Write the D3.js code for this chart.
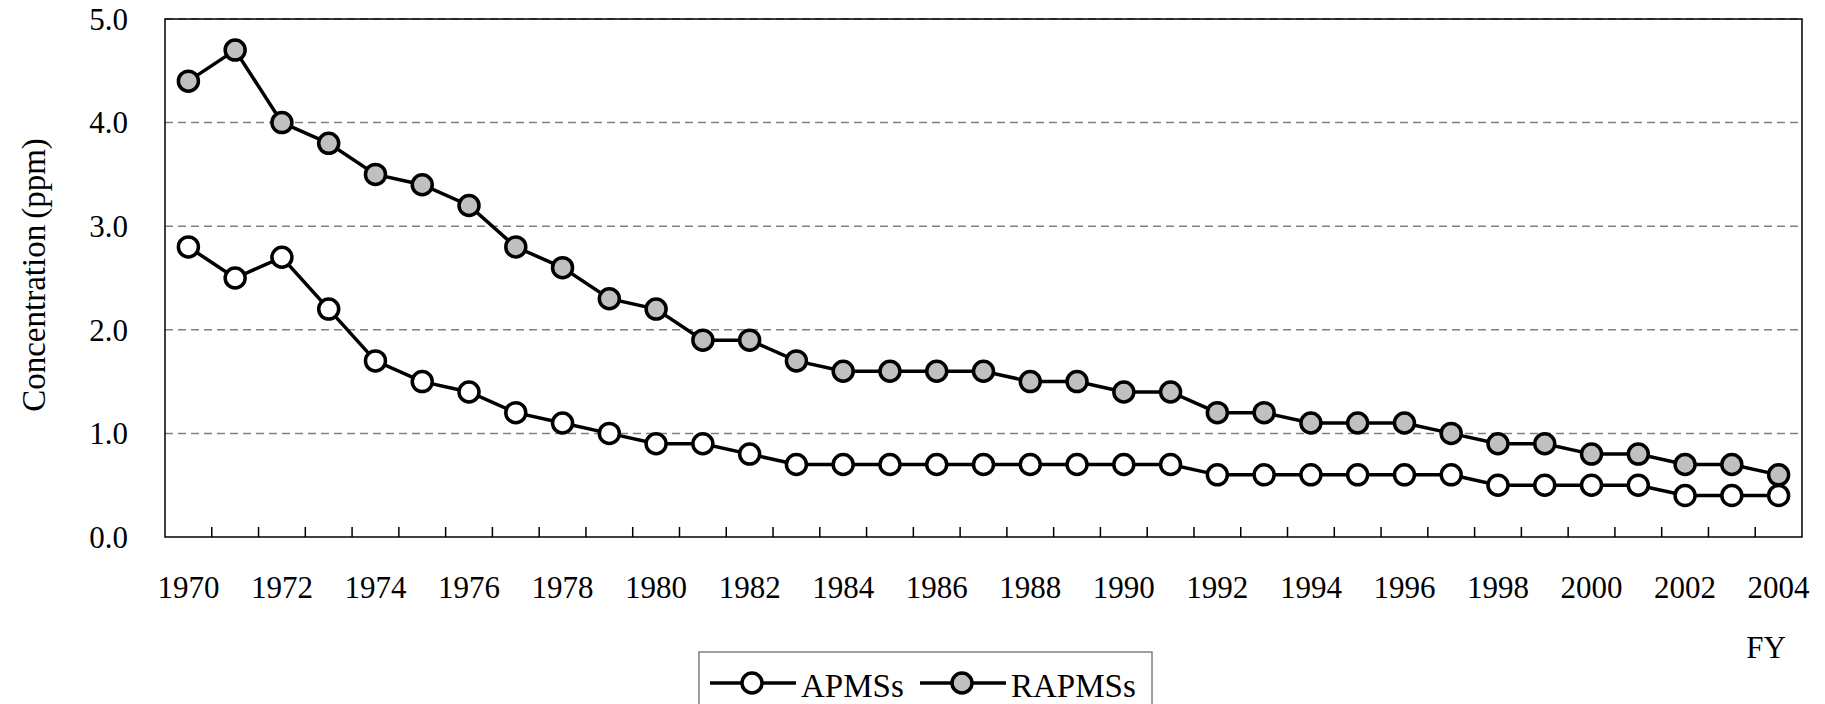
<!DOCTYPE html>
<html>
<head>
<meta charset="utf-8">
<script src="https://cdn.jsdelivr.net/npm/d3@7"></script>
<style>
  body { margin: 0; background: #fff; }
  svg text { font-family: 'Liberation Serif', serif; fill: #000; }
</style>
</head>
<body>
<div class="wrapper"></div>
<script>
// data
var years = d3.range(1970, 2005);
var apmss = [2.8, 2.5, 2.7, 2.2, 1.7, 1.5, 1.4, 1.2, 1.1, 1.0, 0.9, 0.9, 0.8, 0.7, 0.7, 0.7, 0.7, 0.7,
             0.7, 0.7, 0.7, 0.7, 0.6, 0.6, 0.6, 0.6, 0.6, 0.6, 0.5, 0.5, 0.5, 0.5, 0.4, 0.4, 0.4];
var rapmss = [4.4, 4.7, 4.0, 3.8, 3.5, 3.4, 3.2, 2.8, 2.6, 2.3, 2.2, 1.9, 1.9, 1.7, 1.6, 1.6, 1.6, 1.6,
              1.5, 1.5, 1.4, 1.4, 1.2, 1.2, 1.1, 1.1, 1.1, 1.0, 0.9, 0.9, 0.8, 0.8, 0.7, 0.7, 0.6];
var yTicks = [0, 1, 2, 3, 4, 5];
var seriesNames = ["APMSs", "RAPMSs"];
var seriesFill = ["#ffffff", "#c0c0c0"];

var W = 1825, H = 704;
var margin = {top: 19, right: 23, bottom: 167, left: 165},
    width = W - margin.left - margin.right,
    height = H - margin.top - margin.bottom;

var svg = d3.select(".wrapper")
  .append("svg")
    .attr("width", W)
    .attr("height", H)
  .append("g")
    .attr("transform", "translate(" + margin.left + "," + margin.top + ")");

var x = d3.scaleBand().domain(years).range([0, width]);
var y = d3.scaleLinear().domain([0, 5]).range([height, 0]);
var cx = function(yr) { return x(yr) + x.bandwidth() / 2; };

// dashed grid
svg.append("g")
  .selectAll("line")
  .data(yTicks.filter(d => d > 0))
  .enter().append("line")
    .attr("x1", 0).attr("x2", width)
    .attr("y1", d => y(d)).attr("y2", d => y(d))
    .style("stroke", "#808080")
    .style("stroke-width", 1.5)
    .style("stroke-dasharray", "8,5");

// frame
svg.append("rect")
  .attr("width", width).attr("height", height)
  .style("fill", "none").style("stroke", "#000").style("stroke-width", 1.5);

// x ticks (inward, at band boundaries)
svg.append("g")
  .selectAll("line")
  .data(years.slice(1))
  .enter().append("line")
    .attr("x1", d => x(d)).attr("x2", d => x(d))
    .attr("y1", height).attr("y2", height - 10)
    .style("stroke", "#000").style("stroke-width", 1.5);

// x labels every other year
svg.append("g")
  .selectAll("text")
  .data(years.filter(d => d % 2 == 0))
  .enter().append("text")
    .attr("x", d => cx(d))
    .attr("y", height + 61)
    .attr("text-anchor", "middle")
    .style("font-size", "31px")
    .text(d => d);

// y labels
svg.append("g")
  .selectAll("text")
  .data(yTicks)
  .enter().append("text")
    .attr("x", -37)
    .attr("y", d => y(d))
    .attr("dy", "0.35em")
    .attr("text-anchor", "end")
    .style("font-size", "31px")
    .text(d => d.toFixed(1));

// axis titles
var yTitle = svg.append("text")
  .attr("transform", "translate(" + (45 - margin.left) + "," + (275 - margin.top) + ") rotate(-90)")
  .attr("text-anchor", "middle")
  .style("font-size", "33px");
yTitle.append("tspan").text("Concentration");
yTitle.append("tspan").attr("dx", 6).text("(ppm)");

svg.append("text")
  .attr("x", 1766 - margin.left)
  .attr("y", 658 - margin.top)
  .attr("text-anchor", "middle")
  .style("font-size", "31px")
  .text("FY");

// series
var line = d3.line().x((d, i) => cx(years[i])).y(d => y(d));
[apmss, rapmss].forEach(function(vals, k) {
  svg.append("path")
    .datum(vals)
    .attr("d", line)
    .style("fill", "none").style("stroke", "#000").style("stroke-width", 3.5);
});
[apmss, rapmss].forEach(function(vals, k) {
  svg.append("g")
    .selectAll("circle")
    .data(vals)
    .enter().append("circle")
      .attr("cx", (d, i) => cx(years[i]))
      .attr("cy", d => y(d))
      .attr("r", 10)
      .style("fill", seriesFill[k])
      .style("stroke", "#000").style("stroke-width", 3.5);
});

// legend
var leg = d3.select("svg").append("g").attr("transform", "translate(699,652)");
leg.append("rect")
  .attr("width", 453).attr("height", 80)
  .style("fill", "#fff").style("stroke", "#808080").style("stroke-width", 1.5);
var legX = [11, 221];
seriesNames.forEach(function(name, k) {
  var g = leg.append("g").attr("transform", "translate(" + legX[k] + ",0)");
  g.append("line").attr("x1", 0).attr("x2", 86).attr("y1", 31).attr("y2", 31)
    .style("stroke", "#000").style("stroke-width", 3.5);
  g.append("circle").attr("cx", 42).attr("cy", 31).attr("r", 10)
    .style("fill", seriesFill[k]).style("stroke", "#000").style("stroke-width", 3.5);
  g.append("text").attr("x", 91).attr("y", 45)
    .style("font-size", "33px").text(name);
});
</script>
</body>
</html>
